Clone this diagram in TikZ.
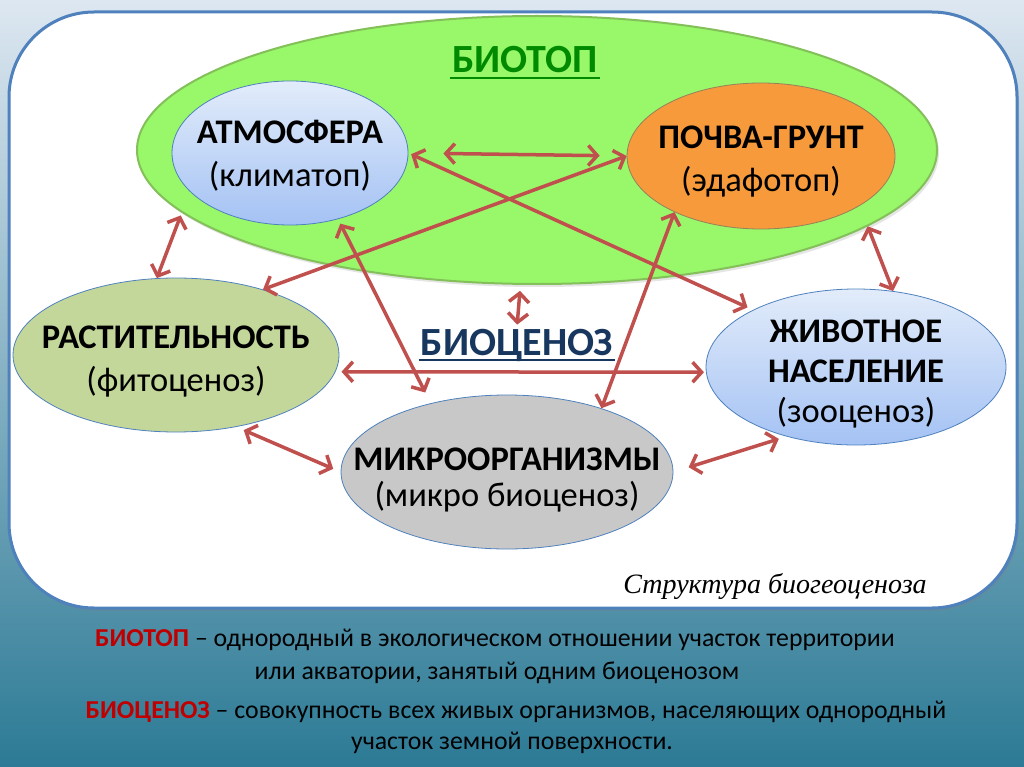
\documentclass[tikz,border=0pt]{standalone}
\usepackage{fontspec}
\setmainfont{Carlito}
\newfontfamily\tnr{Liberation Serif}
\usetikzlibrary{shapes.geometric,arrows.meta,shadows}
\definecolor{arrred}{HTML}{C0504D}
\definecolor{biogreen}{HTML}{008A00}
\definecolor{bionavy}{HTML}{17375E}
\definecolor{ellgreen}{HTML}{99F76A}
\definecolor{ellgreenb}{HTML}{83C05A}
\definecolor{frameblue}{HTML}{4F81BD}
\definecolor{orangef}{HTML}{F79A3B}
\definecolor{rastf}{HTML}{C4D79B}
\definecolor{mikrof}{HTML}{C8C8C8}
\definecolor{defred}{HTML}{C00000}
\tikzset{
  ell/.style={ellipse, inner sep=0pt, draw=frameblue, line width=0.8pt},
  lbl/.style={align=center, inner sep=0pt, font=\fontsize{34.5}{43}\selectfont},
  dbl/.style={draw=arrred, line width=3.5pt,
    {Straight Barb[length=9pt,width=20pt]}-{Straight Barb[length=9pt,width=20pt]}},
  deftext/.style={inner sep=0pt, font=\fontsize{25.8}{30}\selectfont},
  titletext/.style={inner sep=2pt, font=\fontsize{40}{42}\selectfont\bfseries}
}
\begin{document}
\begin{tikzpicture}[x=1pt,y=-1pt]
\useasboundingbox (0,0) rectangle (1024,767);
% background
\shade[top color={rgb,255:red,221;green,231;blue,241}, middle color={rgb,255:red,169;green,201;blue,220}, bottom color={rgb,255:red,44;green,122;blue,149}] (0,0) rectangle (1024,767);
% white frame
\draw[fill=white, draw=frameblue, line width=3pt, rounded corners=85pt, drop shadow={opacity=0.25, shadow xshift=2pt, shadow yshift=-3pt}] (9,12) rectangle (1017,608);
% biotop ellipse
\node[ellipse, minimum width=800pt, minimum height=268pt, fill=ellgreen, draw=ellgreenb, line width=2pt, inner sep=0pt, drop shadow={opacity=0.2, shadow xshift=2pt, shadow yshift=-3pt}] (G) at (537,150) {};
% inner ellipses
\node[ell, minimum width=236pt, minimum height=144pt, top color={rgb,255:red,226;green,236;blue,250}, bottom color={rgb,255:red,164;green,194;blue,244}] (atm) at (290,153) {};
\node[ell, minimum width=268pt, minimum height=146pt, fill=orangef, draw={rgb,255:red,150;green,130;blue,90}] (poch) at (761,156) {};
\node[ell, minimum width=326pt, minimum height=154pt, fill=rastf] (rast) at (176,355) {};
\node[ell, minimum width=300pt, minimum height=156pt, top color={rgb,255:red,226;green,236;blue,250}, bottom color={rgb,255:red,164;green,194;blue,244}] (zhiv) at (856,367) {};
\node[ell, minimum width=332pt, minimum height=154pt, fill=mikrof] (mikro) at (507,472) {};
% labels
\node[titletext, text=biogreen] (biot) at (525,60) {БИОТОП};
\draw[biogreen, line width=2.6pt] ([yshift=-5pt]biot.base west) -- ([yshift=-5pt]biot.base east);
\node[titletext, text=bionavy] (bioc) at (517,345) {БИОЦЕНОЗ};
\draw[bionavy, line width=2.6pt] ([yshift=-5pt]bioc.base west) -- ([yshift=-5pt]bioc.base east);
\node[lbl] (atmT) at (290,156) {\textbf{АТМОСФЕРА}\\(климатоп)};
\node[lbl] (pochT) at (761,162) {\textbf{ПОЧВА-ГРУНТ}\\(эдафотоп)};
\node[lbl] (rastT) at (176,362) {\textbf{РАСТИТЕЛЬНОСТЬ}\\(фитоценоз)};
\node[lbl, font=\fontsize{34.5}{40}\selectfont] (zhivT) at (856,374) {\textbf{ЖИВОТНОЕ}\\\textbf{НАСЕЛЕНИЕ}\\(зооценоз)};
\node[lbl, font=\fontsize{34.5}{36}\selectfont] (mikroT) at (507,480) {\textbf{МИКРООРГАНИЗМЫ}\\(микро биоценоз)};
\node[inner sep=0pt, font=\tnr\itshape\fontsize{28}{30}\selectfont] (cap) at (775,586) {Структура биогеоценоза};
% arrows
\draw[dbl, shorten <=35pt, shorten >=27pt] (atm.east) -- (poch.west);
\draw[dbl, shorten <=3pt, shorten >=6pt] (atm.east) -- (zhiv.151);
\draw[dbl] (poch.west) -- (rast.37);
\draw[dbl, shorten <=5pt, shorten >=12pt] (atm.-54) -- (mikro.138);
\draw[dbl] (poch.213) -- (mikro.34);
\draw[dbl, shorten <=3pt] (G.190) -- (rast.104);
\draw[dbl] (G.-13) -- (zhiv.64);
\draw[dbl, shorten <=6pt, shorten >=2pt] (G.-97) -- (bioc.north);
\draw[dbl, shorten <=6pt, shorten >=2pt] (rast.-6) -- (zhiv.182);
\draw[dbl, shorten <=8pt, shorten >=8pt] (rast.-50) -- (mikro.west);
\draw[dbl, shorten <=16pt, shorten >=8pt] (mikro.east) -- (zhiv.-135);
% definitions
\node[deftext] (d1) at (495,640) {\textbf{\textcolor{defred}{БИОТОП}} – однородный в экологическом отношении участок территории};
\node[deftext] (d2) at (497,673) {или акватории, занятый одним биоценозом};
\node[deftext] (d3) at (516,712) {\textbf{\textcolor{defred}{БИОЦЕНОЗ}} – совокупность всех живых организмов, населяющих однородный};
\node[deftext] (d4) at (512,743) {участок земной поверхности.};
\end{tikzpicture}
\end{document}
